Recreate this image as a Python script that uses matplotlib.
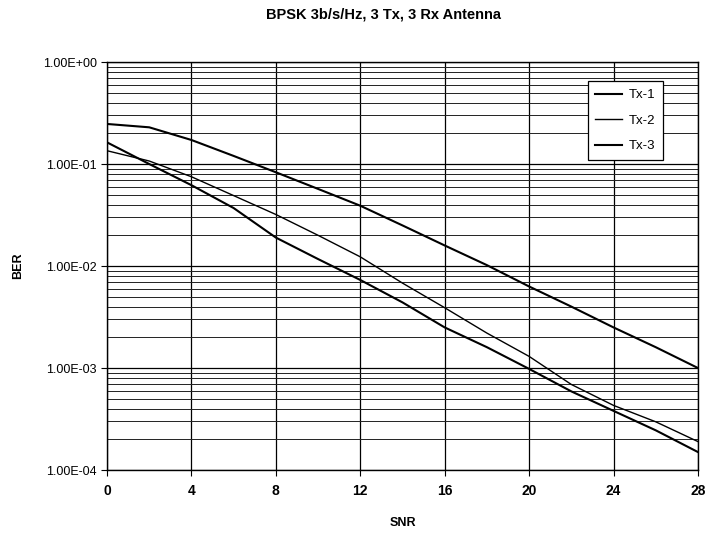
import matplotlib
matplotlib.use("Agg")
import matplotlib.pyplot as plt
import numpy as np
from matplotlib.ticker import FixedLocator, FuncFormatter, LogLocator, NullFormatter

plt.rcParams['font.family'] = ['Liberation Sans', 'DejaVu Sans']

snr = [0, 2, 4, 6, 8, 10, 12, 14, 16, 18, 20, 22, 24, 26, 28]
tx1 = [0.247, 0.229, 0.172, 0.12, 0.083, 0.057, 0.039, 0.025, 0.0159, 0.0102,
       0.0063, 0.0040, 0.0025, 0.0016, 0.001]
tx2 = [0.135, 0.107, 0.075, 0.049, 0.032, 0.020, 0.0123, 0.0068, 0.0039, 0.0022,
       0.0013, 0.00069, 0.00043, 0.000297, 0.00019]
tx3 = [0.163, 0.10, 0.062, 0.037, 0.019, 0.0117, 0.0073, 0.0044, 0.0025, 0.0016,
       0.00098, 0.00059, 0.00038, 0.000245, 0.00015]
xticks = [0, 4, 8, 12, 16, 20, 24, 28]

fig = plt.figure(figsize=(7.06, 5.36), dpi=100)
ax = fig.add_axes([0.1516, 0.1231, 0.837, 0.7612])

ax.plot(snr, tx1, color='black', lw=1.5, label='Tx-1')
ax.plot(snr, tx2, color='black', lw=1.0, label='Tx-2')
ax.plot(snr, tx3, color='black', lw=1.5, label='Tx-3')

ax.set_yscale('log')
ax.set_ylim(1e-4, 1)
ax.set_xlim(0, 28)
ax.xaxis.set_major_locator(FixedLocator(xticks))
ax.yaxis.set_major_locator(LogLocator(base=10, numticks=10))
ax.yaxis.set_minor_locator(LogLocator(base=10, subs=np.arange(2, 10), numticks=20))
ax.yaxis.set_minor_formatter(NullFormatter())
ax.yaxis.set_major_formatter(FuncFormatter(lambda v, p: '%.2E' % v))

ax.grid(True, which='major', axis='both', color='black', lw=0.9)
ax.grid(True, which='minor', axis='y', color='#222222', lw=0.7)
ax.set_axisbelow(True)

ax.tick_params(axis='y', which='major', direction='out', length=4, labelsize=9)
ax.tick_params(axis='y', which='minor', length=0)
ax.tick_params(axis='x', direction='out', length=4, labelsize=10, pad=6)
for lbl in ax.get_xticklabels():
    lbl.set_fontweight('bold')
for s in ax.spines.values():
    s.set_color('black')
    s.set_linewidth(1.0)

ax.set_xlabel('SNR', fontsize=9, fontweight='bold', labelpad=14)
ax.set_ylabel('BER', fontsize=9, fontweight='bold', labelpad=13)
fig.text(0.5425, 0.966, 'BPSK 3b/s/Hz, 3 Tx, 3 Rx Antenna', fontsize=10.5,
         fontweight='bold', ha='center', va='baseline')

leg = ax.legend(loc='upper right', bbox_to_anchor=(0.952, 0.969), fontsize=9.5,
                frameon=True, fancybox=False, handlelength=2.0, labelspacing=1.0,
                borderpad=0.6, handletextpad=0.5, framealpha=1)
leg.get_frame().set_edgecolor('black')
leg.get_frame().set_linewidth(0.9)

fig.savefig('out.png', dpi=100)
